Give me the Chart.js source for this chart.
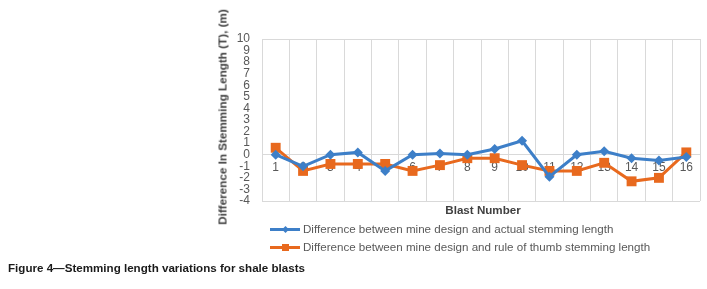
<!DOCTYPE html>
<html>
<head>
<meta charset="utf-8">
<script src="https://cdn.jsdelivr.net/npm/chart.js@4"></script>
<style>
  html, body { margin: 0; padding: 0; background: #fff; }
  body { width: 707px; height: 289px; position: relative; overflow: hidden; font-family: "Liberation Sans", Arial, sans-serif; }
  #wrap { position: absolute; left: 0; top: 0; width: 707px; height: 289px; }
  .ytitle { position: absolute; left: 222px; top: 117px; transform: translate(-50%, -50%) rotate(-90deg); white-space: nowrap; font-weight: bold; font-size: 11.7px; color: #404040; }
  .xtitle { position: absolute; left: 483px; top: 209px; transform: translate(-50%, -50%); white-space: nowrap; font-weight: bold; font-size: 11.6px; color: #404040; }
  #legend { position: absolute; left: 270px; top: 220px; font-size: 11.6px; color: #595959; }
  .item { height: 18px; line-height: 18px; display: flex; align-items: center; }
  .swatch { position: relative; width: 30px; height: 3px; margin-right: 3px; }
  .mark { position: absolute; left: 50%; top: 50%; }
  .caption { position: absolute; left: 8px; top: 261px; font-weight: bold; font-size: 11.6px; color: #1a1a1a; white-space: nowrap; }
</style>
</head>
<body>
<div id="wrap"><canvas id="chart" width="707" height="289"></canvas></div>
<div class="ytitle">Difference In Stemming Length (T), (m)</div>
<div class="xtitle">Blast Number</div>
<div id="legend"></div>
<div class="caption">Figure 4—Stemming length variations for shale blasts</div>
<script>
// Data
const blastNumbers = ['1', '2', '3', '4', '5', '6', '7', '8', '9', '10', '11', '12', '13', '14', '15', '16'];
const actualDiff = [0, -1, 0, 0.2, -1.4, 0, 0.1, 0, 0.5, 1.2, -1.9, 0, 0.3, -0.3, -0.5, -0.2];
const ruleOfThumbDiff = [0.6, -1.4, -0.8, -0.8, -0.8, -1.4, -0.9, -0.3, -0.3, -0.9, -1.4, -1.4, -0.7, -2.3, -2.0, 0.2];
const seriesNames = [
    'Difference between mine design and actual stemming length',
    'Difference between mine design and rule of thumb stemming length'
];
const yTicks = [-4, -3, -2, -1, 0, 1, 2, 3, 4, 5, 6, 7, 8, 9, 10];

const BLUE = '#3d7fc8';
const ORANGE = '#e8691e';
const GRID = '#d9d9d9';

const ctx = document.getElementById('chart').getContext('2d');

const chart = new Chart(ctx, {
    type: 'line',
    data: {
        labels: blastNumbers,
        datasets: [{
            label: seriesNames[0],
            data: actualDiff,
            borderColor: BLUE,
            backgroundColor: BLUE,
            borderWidth: 3,
            pointStyle: 'rectRot',
            pointRadius: 5,
            pointBorderWidth: 0,
            tension: 0
        }, {
            label: seriesNames[1],
            data: ruleOfThumbDiff,
            borderColor: ORANGE,
            backgroundColor: ORANGE,
            borderWidth: 3,
            pointStyle: 'rect',
            pointRadius: 7,
            pointBorderWidth: 0,
            tension: 0
        }]
    },
    options: {
        responsive: false,
        animation: false,
        layout: { padding: { left: 0, right: 7, top: 39, bottom: 88 } },
        plugins: {
            legend: { display: false },
            tooltip: { enabled: false }
        },
        scales: {
            x: {
                type: 'category',
                position: { y: 0 },
                offset: true,
                grid: { offset: true, color: GRID, lineWidth: 1, drawTicks: false },
                border: { display: false },
                ticks: {
                    padding: 6,
                    color: '#595959',
                    font: { family: 'Liberation Sans', size: 12 },
                    maxRotation: 0,
                    autoSkip: false
                }
            },
            y: {
                min: -4,
                max: 10,
                afterFit: function (scale) { scale.width = 262; },
                afterBuildTicks: function (scale) {
                    scale.ticks = yTicks.map(v => ({ value: v }));
                },
                grid: {
                    drawTicks: false,
                    color: function (c) {
                        const v = c.tick && c.tick.value;
                        return (v === 10 || v === 0 || v === -4) ? GRID : 'rgba(0,0,0,0)';
                    }
                },
                border: { display: false },
                ticks: {
                    autoSkip: false,
                    padding: 12,
                    color: '#595959',
                    font: { family: 'Liberation Sans', size: 12 }
                }
            }
        }
    }
});

// --- HTML legend built from the datasets ---
const legend = document.getElementById('legend');
chart.data.datasets.forEach(function (ds) {
    const item = document.createElement('div');
    item.className = 'item';
    const sw = document.createElement('span');
    sw.className = 'swatch';
    sw.style.background = ds.borderColor;
    const mk = document.createElement('span');
    mk.className = 'mark';
    if (ds.pointStyle === 'rectRot') {
        mk.style.cssText = 'width:5px;height:5px;margin:-2.5px 0 0 -2.5px;transform:rotate(45deg);background:' + ds.borderColor;
    } else {
        mk.style.cssText = 'width:7px;height:7px;margin:-3.5px 0 0 -3.5px;background:' + ds.borderColor;
    }
    sw.appendChild(mk);
    const txt = document.createElement('span');
    txt.textContent = ds.label;
    item.appendChild(sw);
    item.appendChild(txt);
    legend.appendChild(item);
});
</script>
</body>
</html>
